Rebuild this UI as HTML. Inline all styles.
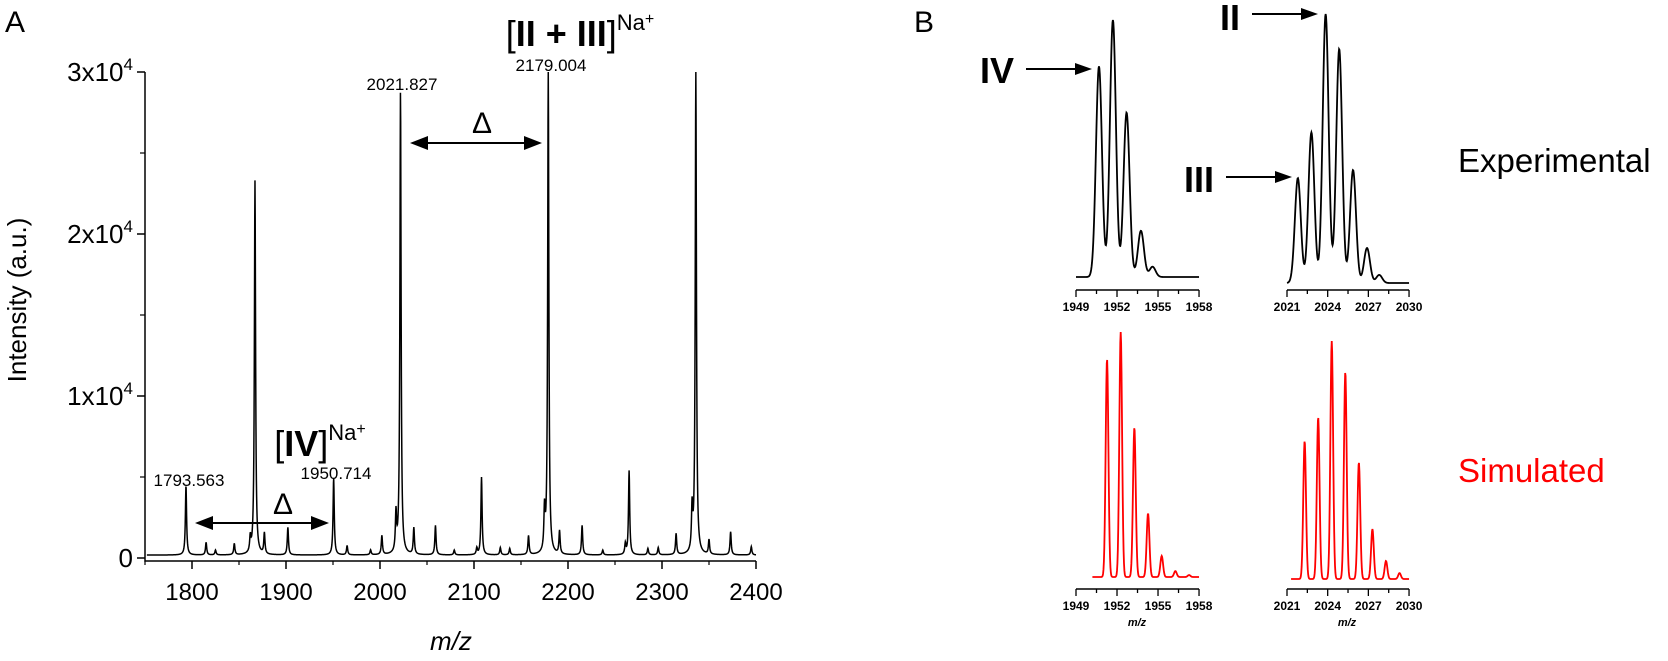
<!DOCTYPE html>
<html><head><meta charset="utf-8"><style>
html,body{margin:0;padding:0;background:#fff;}
svg{display:block;font-family:"Liberation Sans",sans-serif;}
</style></head><body>
<svg id="fig" width="1668" height="661" viewBox="0 0 1668 661" xmlns="http://www.w3.org/2000/svg">
<g id="panelA"></g>
<g id="panelB"></g>
<text x="5" y="32" font-size="30">A</text>
<text x="914" y="32" font-size="30">B</text>
<text transform="translate(26,300) rotate(-90)" text-anchor="middle" font-size="26">Intensity (a.u.)</text>
<text x="451" y="650" text-anchor="middle" font-size="26" font-style="italic">m/z</text>
<text x="580" y="46" text-anchor="middle" font-size="36">[<tspan font-weight="bold">II + III</tspan>]<tspan font-size="22" dy="-16">Na</tspan><tspan font-size="16" dy="-6">+</tspan></text>
<text x="320" y="456" text-anchor="middle" font-size="36">[<tspan font-weight="bold">IV</tspan>]<tspan font-size="22" dy="-16">Na</tspan><tspan font-size="16" dy="-6">+</tspan></text>
<text x="402" y="90" text-anchor="middle" font-size="17">2021.827</text>
<text x="551" y="71" text-anchor="middle" font-size="17">2179.004</text>
<text x="189" y="486" text-anchor="middle" font-size="17">1793.563</text>
<text x="336" y="479" text-anchor="middle" font-size="17">1950.714</text>
<g>
<line x1="420" y1="143" x2="532" y2="143" stroke="#000" stroke-width="2"/>
<polygon points="410,143 428,136 428,150" fill="#000"/><polygon points="542,143 524,136 524,150" fill="#000"/>
<text x="482" y="133" text-anchor="middle" font-size="30">Δ</text></g>
<g>
<line x1="205" y1="523" x2="319" y2="523" stroke="#000" stroke-width="2"/>
<polygon points="195,523 213,516 213,530" fill="#000"/><polygon points="329,523 311,516 311,530" fill="#000"/>
<text x="283" y="514" text-anchor="middle" font-size="30">Δ</text></g>
<g>
<text x="980" y="83" font-size="36" font-weight="bold">IV</text>
<line x1="1026" y1="69" x2="1078" y2="69" stroke="#000" stroke-width="2"/><polygon points="1092,69 1075,63 1075,75" fill="#000"/>
<text x="1220" y="30" font-size="36" font-weight="bold">II</text>
<line x1="1252" y1="14" x2="1304" y2="14" stroke="#000" stroke-width="2"/><polygon points="1318,14 1301,8 1301,20" fill="#000"/>
<text x="1184" y="192" font-size="36" font-weight="bold">III</text>
<line x1="1226" y1="177" x2="1278" y2="177" stroke="#000" stroke-width="2"/><polygon points="1292,177 1275,171 1275,183" fill="#000"/>
</g>
<text x="1458" y="172" font-size="33">Experimental</text>
<text x="1458" y="482" font-size="33" fill="#ff0000">Simulated</text>
</svg>
<script>
// Panel A data
const peakMz = [1793.6,1815,1825,1845,1862,1867,1877,1902,1950.7,1965,1990,2002,2017,2021.8,2036,2059,2079,2103,2108,2128,2138,2158,2175,2179,2191,2215,2237,2261,2265,2285,2296,2315,2332,2336,2350,2373,2395];
const peakInt = [4300,780,300,700,900,23100,1300,1700,4760,570,300,1170,2340,28600,1640,1820,300,400,4800,450,400,1170,2470,29800,1430,1820,300,650,5200,400,450,1300,2600,30000,900,1430,520];
const baseInt = 180;
const xTicks = [1800,1900,2000,2100,2200,2300,2400];
const yTicks = [0,10000,20000,30000];
const yTickLabels = ["0","1x10","2x10","3x10"];
// Panel B data
const expLeftMz = [1950.68,1951.7,1952.7,1953.75,1954.6];
const expLeftRel = [0.82,1.0,0.64,0.18,0.04];
const expRightMz = [2021.8,2022.8,2023.85,2024.85,2025.87,2026.9,2027.8];
const expRightRel = [0.39,0.56,1.0,0.87,0.42,0.13,0.03];
const simLeftMz = [1951.27,1952.27,1953.27,1954.27,1955.27,1956.27,1957.27];
const simLeftRel = [0.89,1.0,0.61,0.26,0.086,0.024,0.008];
const simRightMz = [2022.3,2023.3,2024.3,2025.3,2026.3,2027.3,2028.3,2029.3];
const simRightRel = [0.58,0.68,1.0,0.87,0.49,0.21,0.076,0.025];
const leftTickLabels = ["1949","1952","1955","1958"];
const rightTickLabels = ["2021","2024","2027","2030"];

const NS="http://www.w3.org/2000/svg";
function mk(tag,attrs,parent){const e=document.createElementNS(NS,tag);for(const k in attrs)e.setAttribute(k,attrs[k]);parent.appendChild(e);return e;}

// Panel A axes
const A=document.getElementById('panelA');
const X0=145, PXPER=0.94, Y0=558, PYPER=(558-72)/30000;
const xA=m=>X0+(m-1750)*PXPER;
const yA=v=>Y0-v*PYPER;
let d="";
for(let m=1752;m<=2400;m+=0.25){
  let v=baseInt;
  for(let i=0;i<peakMz.length;i++){const w=1.5;const dx=(m-peakMz[i])/w;v+=peakInt[i]/(1+dx*dx*4);}
  if(v>30000)v=30000;
  d+=(d?"L":"M")+xA(m).toFixed(2)+","+yA(v).toFixed(2);
}
const sp=mk('path',{d:d,fill:"none",stroke:"#000","stroke-width":1.5},A);


const ax=mk('path',{d:`M${X0},72 V561 H${xA(2400)}`,fill:"none",stroke:"#000","stroke-width":1.5},A);


xTicks.forEach(t=>{
  mk('line',{x1:xA(t),x2:xA(t),y1:561,y2:569,stroke:"#000","stroke-width":1.5},A);
  mk('line',{x1:xA(t-50),x2:xA(t-50),y1:561,y2:565,stroke:"#000","stroke-width":1.2},A);
  const tx=mk('text',{x:xA(t),y:600,"text-anchor":"middle","font-size":24},A);tx.textContent=t;
  
  
});
yTicks.forEach((t,i)=>{
  mk('line',{x1:X0-8,x2:X0,y1:yA(t),y2:yA(t),stroke:"#000","stroke-width":1.5},A);
  if(i<yTicks.length-1) mk('line',{x1:X0-5,x2:X0,y1:yA(t+5000),y2:yA(t+5000),stroke:"#000","stroke-width":1.2},A);
  const tx=mk('text',{x:X0-12,y:yA(t)+9,"text-anchor":"end","font-size":26},A);
  if(i===0){tx.textContent="0";}else{tx.textContent=yTickLabels[i];const s=mk('tspan',{"font-size":17,dy:-11},tx);s.textContent="4";}
  
  
});

// Panel B insets
const B=document.getElementById('panelB');
function inset(name,x0,lo,pxu,axisY,baseY,topH,mzs,rels,sigma,color,labels,start){
  const g=mk('g',{},B);
  
  
  const xs=m=>x0+(m-lo)*pxu;
  let p="";
  for(let m=start;m<=lo+9;m+=0.03){
    let v=0;for(let i=0;i<mzs.length;i++){const z=(m-mzs[i])/sigma;v+=rels[i]*Math.exp(-0.5*z*z);}
    if(v>1)v=1;
    p+=(p?"L":"M")+xs(m).toFixed(2)+","+(baseY-v*topH).toFixed(2);
  }
  mk('path',{d:p,fill:"none",stroke:color,"stroke-width":1.8},g);
  mk('line',{x1:xs(lo),x2:xs(lo+9),y1:axisY,y2:axisY,stroke:"#000","stroke-width":1.5},g);
  for(let k=0;k<=6;k++){const len=k%2===0?7:4;mk('line',{x1:xs(lo+1.5*k),x2:xs(lo+1.5*k),y1:axisY,y2:axisY+len,stroke:"#000","stroke-width":1.3},g);}
  labels.forEach((l,k)=>{const t=mk('text',{x:xs(lo+3*k),y:axisY+21,"text-anchor":"middle","font-size":12,"font-weight":"bold"},g);t.textContent=l;});
  return xs;
}
inset('inset-exp-1950',1076,1949,13.67,290,277,257,expLeftMz,expLeftRel,0.22,"#000",leftTickLabels,1949);
inset('inset-exp-2021',1287,2021,13.56,290,283,269,expRightMz,expRightRel,0.22,"#000",rightTickLabels,2021);
inset('inset-sim-1950',1076,1949,13.67,589,577,245,simLeftMz,simLeftRel,0.1,"#ff0000",leftTickLabels,1950.2);
inset('inset-sim-2021',1287,2021,13.56,589,579,238,simRightMz,simRightRel,0.1,"#ff0000",rightTickLabels,2021.3);
[[1137,'inset-sim-1950-xlabel'],[1347,'inset-sim-2021-xlabel']].forEach(([x,n])=>{
  const t=mk('text',{x:x,y:626,"text-anchor":"middle","font-size":11,"font-style":"italic","font-weight":"bold"},B);t.textContent="m/z";
  
  
});
</script>
</body></html>
